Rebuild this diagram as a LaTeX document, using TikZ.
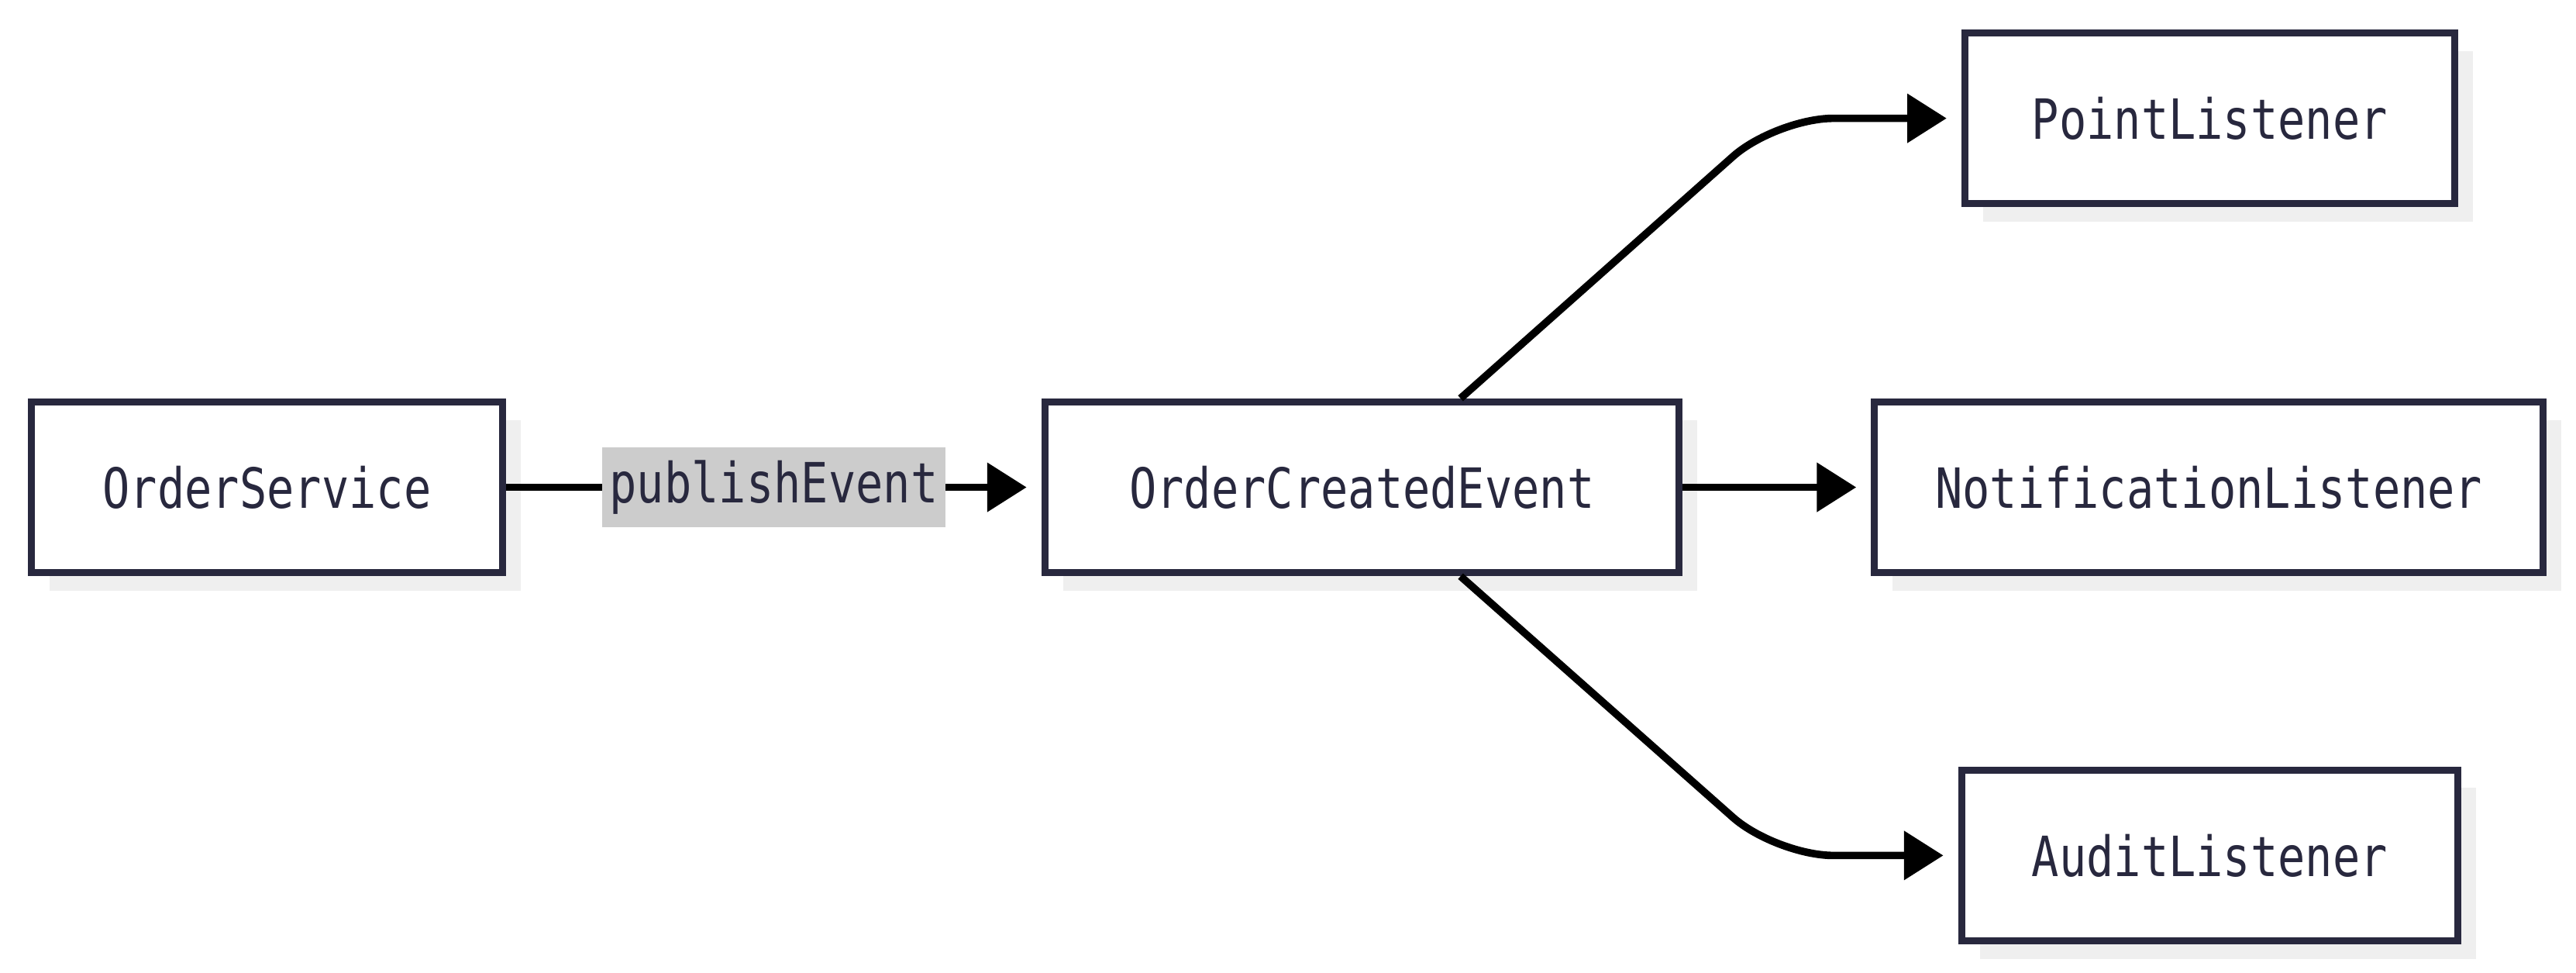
\documentclass[tikz,border=0pt]{standalone}
\usepackage{fontspec}
\newfontfamily\plexfont{DejaVu Sans Mono}[FakeStretch=0.82]
\usepackage{tikz}
\usetikzlibrary{arrows.meta,positioning,calc,shadows}
\definecolor{boxline}{RGB}{40,40,62}
\definecolor{shadowgray}{RGB}{239,239,239}
\definecolor{labelgray}{RGB}{204,204,204}
\tikzstyle{classbox}=[draw=boxline, line width=1.2pt, fill=white, minimum height=1.04cm, text=boxline,
  font=\plexfont\fontsize{9.6}{11}\selectfont,
  drop shadow={shadow xshift=0.11cm, shadow yshift=-0.11cm, fill=shadowgray, opacity=1}]
\tikzstyle{link}=[line width=1.3pt, -{Triangle[length=0.24cm,width=0.29cm]}, shorten >=0.09cm]

\begin{document}
\begin{tikzpicture}

\useasboundingbox (0,0) rectangle (15.68,5.92);

% boxes
\node[classbox, minimum width=2.87cm] (os) at (1.625,2.955) {OrderService};
\node[classbox, minimum width=3.86cm] (oce) at (8.29,2.955) {OrderCreatedEvent};
\node[classbox, minimum width=2.98cm] (pl) at (13.45,5.20) {PointListener};
\node[classbox, minimum width=4.07cm] (nl) at (13.445,2.955) {NotificationListener};
\node[classbox, minimum width=3.02cm] (al) at (13.45,0.715) {AuditListener};

% publish
\draw[link] (os) -- node[fill=labelgray, text=boxline, inner xsep=0.045cm, inner ysep=0.04cm, minimum height=0.49cm,
  font=\plexfont\fontsize{9.6}{11}\selectfont]{publishEvent} (oce);

% listeners
\coordinate (bendup) at (10.81,5.20);
\coordinate (benddown) at (10.81,0.715);
\draw[link, rounded corners=0.35cm] ($(oce.north)+(0.6,0)$) -- (bendup) -- (pl);
\draw[link] (oce) -- (nl);
\draw[link, rounded corners=0.35cm] ($(oce.south)+(0.6,0)$) -- (benddown) -- (al);

\end{tikzpicture}
\end{document}
